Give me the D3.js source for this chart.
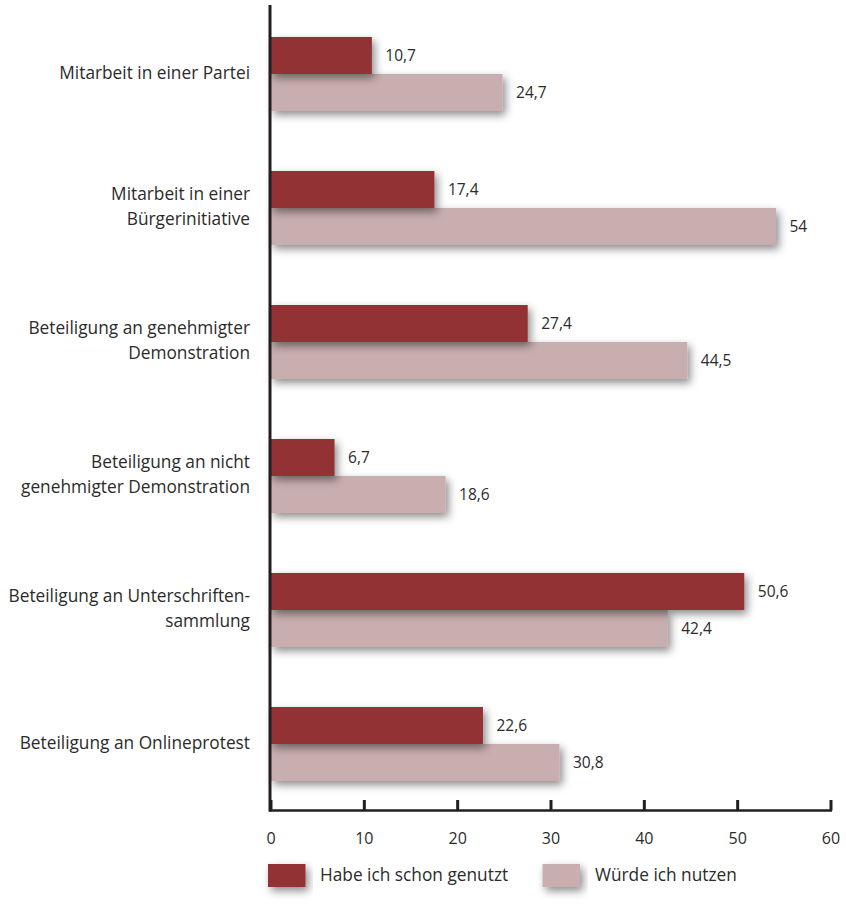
<!DOCTYPE html>
<html><head><meta charset="utf-8">
<script src="https://cdn.jsdelivr.net/npm/d3@7/dist/d3.min.js"></script>
<style>body{margin:0;background:#fff}svg{display:block}text{font-family:"Open Sans","Noto Sans",sans-serif;fill:#2b2b2b}</style>
</head><body>
<script>
const categories = [
  ["Mitarbeit in einer Partei"],
  ["Mitarbeit in einer","Bürgerinitiative"],
  ["Beteiligung an genehmigter","Demonstration"],
  ["Beteiligung an nicht","genehmigter Demonstration"],
  ["Beteiligung an Unterschriften-","sammlung"],
  ["Beteiligung an Onlineprotest"]
];
const habeGenutzt = [10.7, 17.4, 27.4, 6.7, 50.6, 22.6];
const wuerdeNutzen = [24.7, 54, 44.5, 18.6, 42.4, 30.8];
const valueLabels1 = ["10,7","17,4","27,4","6,7","50,6","22,6"];
const valueLabels2 = ["24,7","54","44,5","18,6","42,4","30,8"];
const seriesNames = ["Habe ich schon genutzt","Würde ich nutzen"];
const colors = ["#933236","#c9aeaf"];
const ticks = [0,10,20,30,40,50,60];

const W=846,H=907;
const svg=d3.select("body").append("svg").attr("width",W).attr("height",H);
const defs=svg.append("defs");
const f=defs.append("filter").attr("id","sh").attr("x","-20%").attr("y","-60%").attr("width","140%").attr("height","240%");
f.append("feDropShadow").attr("dx",3).attr("dy",4).attr("stdDeviation",4.5).attr("flood-color","#000").attr("flood-opacity",0.45);

const x=d3.scaleLinear().domain([0,60]).range([270.5,830.5]);
const y=d3.scaleBand().domain(d3.range(categories.length)).range([7,811]).paddingInner(60/134).paddingOuter(30/134);
const bh=y.bandwidth()/2;

const g=svg.append("g");
categories.forEach((c,i)=>{
  const y0=y(i);
  g.append("rect").attr("x",x(0)).attr("y",y0+bh).attr("width",x(wuerdeNutzen[i])-x(0)+1.5).attr("height",bh).attr("fill",colors[1]).attr("filter","url(#sh)");
  g.append("rect").attr("x",x(0)).attr("y",y0).attr("width",x(habeGenutzt[i])-x(0)+1.5).attr("height",bh).attr("fill",colors[0]).attr("filter","url(#sh)");
  g.append("text").attr("x",x(habeGenutzt[i])+15).attr("y",y0+bh/2).attr("dy","0.35em").attr("font-size",15.5).text(valueLabels1[i]);
  g.append("text").attr("x",x(wuerdeNutzen[i])+15).attr("y",y0+bh*1.5).attr("dy","0.35em").attr("font-size",15.5).text(valueLabels2[i]);
  const cy=y0+bh;
  const n=c.length, lh=24.5;
  c.forEach((line,j)=>{
    g.append("text").attr("x",250).attr("y",cy-1.5+(j-(n-1)/2)*lh).attr("dy","0.35em").attr("text-anchor","end").attr("font-size",17.3).text(line);
  });
});

// axes
const ax=svg.append("g").attr("transform","translate(0,810.5)");
ax.call(d3.axisBottom(x).tickValues(ticks).tickSize(0).tickPadding(0).tickFormat(""));
ax.select(".domain").remove();
ax.append("line").attr("x1",x(0)-1.5).attr("x2",x(60)+1.5).attr("y1",0).attr("y2",0).attr("stroke","#231f20").attr("stroke-width",2.5);
ax.selectAll(".tick line").attr("y2",-10.5).attr("stroke","#231f20").attr("stroke-width",3);
ax.selectAll(".tick").append("text").attr("y",27.5).attr("dy","0.35em").attr("text-anchor","middle").attr("font-size",16).text(d=>d);
svg.append("line").attr("x1",x(0)-0.5).attr("x2",x(0)-0.5).attr("y1",5).attr("y2",811.5).attr("stroke","#231f20").attr("stroke-width",3);

// legend
const lg=svg.append("g");
const litems=[{x:268,tx:320},{x:542.5,tx:595}];
seriesNames.forEach((s,i)=>{
  lg.append("rect").attr("x",litems[i].x).attr("y",864).attr("width",37.5).attr("height",23).attr("fill",colors[i]).attr("filter","url(#sh)");
  lg.append("text").attr("x",litems[i].tx).attr("y",875).attr("dy","0.35em").attr("font-size",17.3).text(s);
});
</script>
</body></html>
